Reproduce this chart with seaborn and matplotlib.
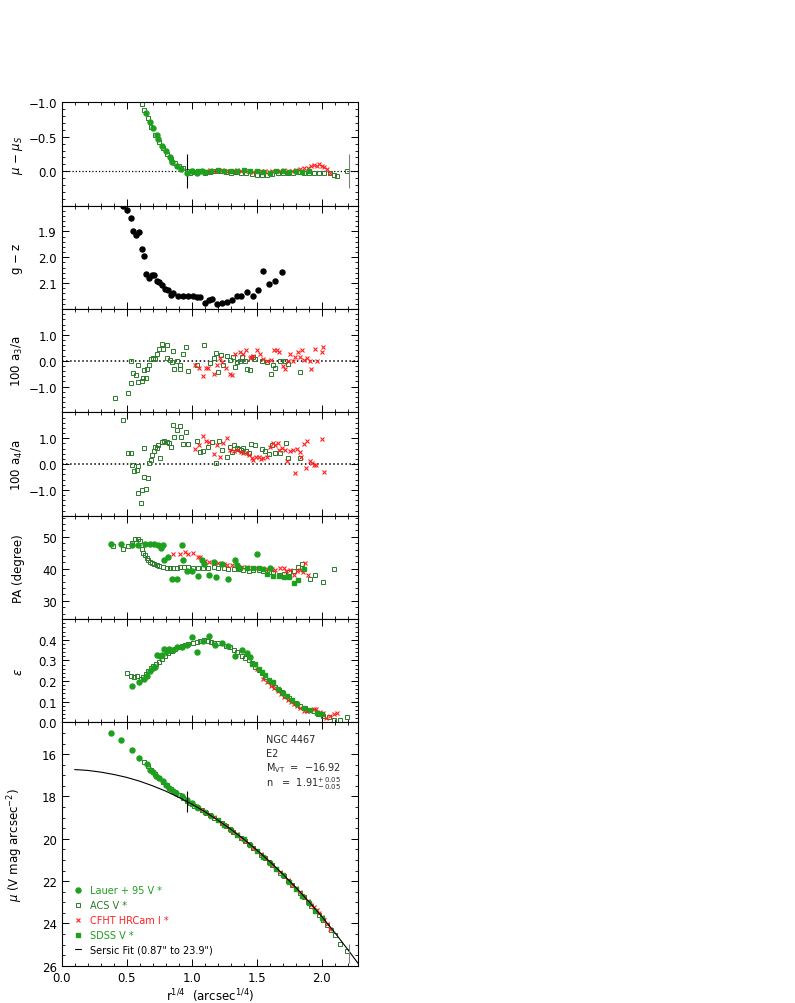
import numpy as np
import matplotlib
matplotlib.use("Agg")
import matplotlib.pyplot as plt
from matplotlib.ticker import MultipleLocator, FixedLocator, FuncFormatter
from matplotlib.lines import Line2D
import seaborn as sns

# colours of the four data sets
LAUER = "#1ea01e"
ACS = "#2a7a2a"
CFHT = "#ff2020"
SDSS = "#1ea01e"

# ---------------- panel 1 : mu - mu_S ----------------
lauer_res_x = [0.65, 0.68, 0.70, 0.73, 0.74, 0.77, 0.80, 0.83, 0.85, 0.89, 0.92, 0.96, 1.00, 1.04, 1.08]
lauer_res_y = [-0.84, -0.71, -0.62, -0.52, -0.47, -0.37, -0.30, -0.20, -0.14, -0.07, -0.03, 0.02, -0.01, 0.02, 0.00]
acs_res_x = [0.615, 0.633, 0.66, 0.69, 0.72, 0.75, 0.78, 0.81, 0.84, 0.87, 0.90, 0.93, 0.96, 0.99, 1.02, 1.06,
             1.10, 1.14, 1.18, 1.22, 1.26, 1.30, 1.34, 1.38, 1.42, 1.46, 1.50, 1.54, 1.58, 1.62, 1.66, 1.70,
             1.74, 1.78, 1.82, 1.86, 1.90, 1.94, 1.98, 2.02, 2.06, 2.09, 2.12, 2.19]
acs_res_y = [-0.975, -0.89, -0.77, -0.64, -0.53, -0.43, -0.34, -0.25, -0.18, -0.12, -0.07, -0.04, -0.01, 0.02,
             0.01, 0.00, 0.02, 0.01, -0.01, 0.00, 0.01, 0.02, 0.01, 0.02, 0.03, 0.04, 0.05, 0.05, 0.05, 0.04,
             0.03, 0.02, 0.02, 0.02, 0.01, 0.02, 0.02, 0.03, 0.03, 0.02, 0.03, 0.05, 0.07, -0.01]
sdss_res_x = [1.00, 1.05, 1.10, 1.15, 1.20, 1.25, 1.30, 1.35, 1.40, 1.45, 1.50, 1.55, 1.60, 1.65, 1.70, 1.75,
              1.80, 1.85, 1.90]
sdss_res_y = [0.00, -0.01, 0.01, 0.00, -0.02, -0.01, 0.00, -0.01, -0.02, -0.01, 0.00, 0.01, 0.02, -0.01, 0.00,
              0.01, 0.00, 0.01, -0.01]
cfht_res_x = [1.05, 1.08, 1.11, 1.14, 1.17, 1.20, 1.23, 1.26, 1.29, 1.32, 1.35, 1.38, 1.41, 1.44, 1.47, 1.50,
              1.53, 1.56, 1.59, 1.62, 1.65, 1.68, 1.71, 1.74, 1.77, 1.80, 1.83, 1.86, 1.89, 1.92, 1.94, 1.96,
              1.98, 2.00, 2.02, 2.04, 2.06]
cfht_res_y = [0.01, -0.01, 0.00, -0.02, -0.01, 0.00, -0.02, -0.01, 0.00, -0.01, -0.02, -0.01, 0.00, -0.01, 0.01,
              0.00, -0.01, 0.00, 0.01, 0.00, -0.01, 0.00, -0.02, -0.01, 0.00, -0.02, -0.03, -0.04, -0.05, -0.07,
              -0.09, -0.08, -0.10, -0.07, -0.06, -0.03, 0.02]

# ---------------- panel 2 : g - z ----------------
gz_x = [0.469, 0.50, 0.531, 0.551, 0.572, 0.597, 0.615, 0.631, 0.648, 0.672, 0.692, 0.712, 0.73, 0.75, 0.774,
        0.795, 0.815, 0.838, 0.859, 0.897, 0.935, 0.974, 1.008, 1.038, 1.064, 1.10, 1.131, 1.154, 1.197, 1.231,
        1.269, 1.308, 1.346, 1.377, 1.423, 1.469, 1.508, 1.551, 1.597, 1.636, 1.692]
gz_y = [1.801, 1.815, 1.847, 1.898, 1.913, 1.903, 1.966, 1.993, 2.066, 2.079, 2.07, 2.07, 2.091, 2.095, 2.108,
        2.121, 2.127, 2.144, 2.140, 2.151, 2.151, 2.151, 2.151, 2.154, 2.155, 2.175, 2.165, 2.162, 2.181, 2.178,
        2.171, 2.165, 2.151, 2.148, 2.136, 2.151, 2.127, 2.052, 2.103, 2.091, 2.057]

# ---------------- panel 3 : 100 a3/a ----------------
acs_a3_x = [0.41, 0.508, 0.533, 0.533, 0.551, 0.572, 0.59, 0.59, 0.615, 0.628, 0.633, 0.646, 0.654, 0.672, 0.685,
            0.705, 0.718, 0.73, 0.748, 0.769, 0.782, 0.808, 0.808, 0.833, 0.846, 0.859, 0.864, 0.889, 0.91, 0.91,
            0.931, 0.956, 0.974, 1.038, 1.095, 1.141, 1.167, 1.187, 1.205, 1.223, 1.238, 1.269, 1.29, 1.313,
            1.333, 1.351, 1.372, 1.385, 1.41, 1.423, 1.449, 1.467, 1.487, 1.538, 1.577, 1.608, 1.623, 1.641,
            1.679, 1.718, 1.743, 1.828]
acs_a3_y = [-1.45, -1.27, -0.85, -0.02, -0.47, -0.57, -0.15, -0.82, -0.80, -0.68, -0.37, -0.68, -0.32, -0.15,
            0.08, 0.10, 0.08, 0.27, 0.47, 0.66, 0.47, 0.62, 0.10, 0.04, -0.06, 0.38, -0.32, -0.02, -0.15, -0.32,
            0.25, 0.51, -0.41, -0.15, 0.62, -0.10, 0.10, 0.30, -0.45, 0.23, -0.17, 0.20, 0.03, 0.13, -0.23, -0.07,
            0.00, 0.16, 0.00, -0.32, -0.38, 0.13, 0.06, 0.00, -0.06, -0.51, -0.17, -0.28, 0.00, 0.00, -0.13, -0.42]
cfht_a3_x = [1.025, 1.054, 1.085, 1.108, 1.128, 1.167, 1.197, 1.218, 1.236, 1.262, 1.29, 1.308, 1.333, 1.367,
             1.39, 1.418, 1.444, 1.454, 1.474, 1.50, 1.526, 1.551, 1.577, 1.608, 1.633, 1.654, 1.674, 1.70, 1.718,
             1.738, 1.756, 1.777, 1.795, 1.815, 1.833, 1.846, 1.864, 1.885, 1.91, 1.918, 1.949, 1.962, 2.0, 2.008]
cfht_a3_y = [-0.15, -0.28, -0.60, -0.28, -0.30, -0.53, -0.15, 0.10, -0.07, -0.28, -0.53, -0.55, 0.27, 0.33, 0.27,
             0.43, 0.10, 0.13, 0.17, 0.43, 0.25, 0.07, 0.00, 0.03, 0.40, 0.43, 0.33, -0.20, -0.32, 0.00, 0.27, -0.03,
             0.13, 0.33, 0.15, 0.40, 0.03, 0.10, 0.00, -0.32, 0.47, -0.03, 0.33, 0.51]

# ---------------- panel 4 : 100 a4/a ----------------
acs_a4_x = [0.474, 0.508, 0.533, 0.538, 0.556, 0.577, 0.59, 0.59, 0.608, 0.62, 0.633, 0.633, 0.646, 0.662, 0.672,
            0.685, 0.697, 0.71, 0.718, 0.73, 0.743, 0.756, 0.769, 0.787, 0.808, 0.828, 0.841, 0.854, 0.867, 0.885,
            0.91, 0.915, 0.931, 0.956, 0.974, 1.038, 1.064, 1.09, 1.128, 1.158, 1.187, 1.213, 1.231, 1.269, 1.29,
            1.308, 1.326, 1.346, 1.36, 1.377, 1.397, 1.415, 1.436, 1.454, 1.487, 1.538, 1.564, 1.59, 1.615, 1.641,
            1.679, 1.726, 1.738, 1.828]
acs_a4_y = [1.69, 0.41, 0.44, -0.02, -0.26, -0.23, -0.07, -1.12, -1.50, -0.99, 0.61, -0.50, -0.95, -0.56, 0.02,
            0.15, 0.35, 0.50, 0.67, 0.61, 0.74, 0.25, 0.87, 0.90, 0.87, 0.81, 0.64, 1.50, 1.03, 1.33, 1.46, 1.03,
            0.77, 1.23, 0.77, 0.90, 0.48, 0.50, 0.64, 0.85, 0.02, 0.90, 0.54, 0.26, 0.64, 0.48, 0.74, 0.61, 0.58,
            0.54, 0.61, 0.50, 0.41, 0.77, 0.74, 0.58, 0.50, 0.38, 0.72, 0.41, 0.44, 0.81, 0.25, 0.23]
cfht_a4_x = [1.025, 1.058, 1.085, 1.108, 1.131, 1.167, 1.192, 1.218, 1.238, 1.269, 1.295, 1.321, 1.346, 1.377,
             1.397, 1.423, 1.441, 1.461, 1.474, 1.495, 1.513, 1.531, 1.551, 1.577, 1.603, 1.623, 1.641, 1.661,
             1.674, 1.697, 1.718, 1.731, 1.756, 1.777, 1.795, 1.808, 1.828, 1.841, 1.859, 1.877, 1.885, 1.905,
             1.923, 1.936, 1.956, 2.0, 2.013]
cfht_a4_y = [0.57, 0.74, 1.10, 0.90, 0.85, 0.38, 0.74, 0.29, 0.81, 1.00, 0.54, 0.50, 0.54, 0.48, 0.41, 0.44, 0.35,
             0.22, 0.16, 0.29, 0.29, 0.20, 0.25, 0.29, 0.64, 0.81, 0.74, 0.81, 0.54, 0.61, 0.54, 0.11, 0.50, 0.54,
             -0.33, 0.58, 0.45, 0.29, 0.77, -0.15, 0.90, 0.12, 0.02, -0.04, -0.02, 0.97, -0.30]

# ---------------- panel 5 : PA ----------------
lauer_pa_x = [0.379, 0.454, 0.54, 0.585, 0.641, 0.679, 0.71, 0.738, 0.764, 0.782, 0.79, 0.815, 0.851, 0.885,
              0.923, 0.935, 0.962, 1.0, 1.044, 1.077, 1.095, 1.136, 1.172, 1.187, 1.231, 1.282, 1.333, 1.351,
              1.505, 1.60]
lauer_pa_y = [47.7, 47.7, 47.5, 47.5, 47.7, 47.7, 47.7, 47.5, 46.4, 47.4, 42.7, 43.8, 36.8, 36.8, 47.5, 42.7,
              39.2, 39.2, 37.8, 42.7, 41.5, 38.0, 42.0, 37.5, 41.5, 36.8, 42.7, 41.3, 44.6, 40.3]
acs_pa_x = [0.397, 0.474, 0.513, 0.538, 0.564, 0.585, 0.60, 0.615, 0.628, 0.64, 0.654, 0.667, 0.679, 0.692, 0.71,
            0.73, 0.75, 0.777, 0.808, 0.833, 0.859, 0.885, 0.91, 0.94, 0.974, 1.013, 1.051, 1.09, 1.128, 1.167,
            1.205, 1.244, 1.282, 1.321, 1.36, 1.397, 1.436, 1.474, 1.513, 1.551, 1.59, 1.628, 1.667, 1.71, 1.749,
            1.787, 1.82, 1.851, 1.91, 1.949, 2.005, 2.09]
acs_pa_y = [47.0, 46.2, 47.2, 48.2, 49.4, 49.4, 48.7, 46.3, 45.0, 44.3, 43.5, 42.7, 42.0, 41.7, 41.5, 41.2, 41.0,
            40.6, 40.4, 40.2, 40.2, 40.4, 40.6, 40.7, 40.6, 40.4, 40.2, 40.2, 40.4, 40.6, 40.2, 40.1, 39.9, 39.9,
            39.9, 39.6, 39.4, 39.6, 39.6, 39.2, 38.9, 38.6, 38.2, 38.4, 38.9, 39.2, 40.6, 41.5, 36.8, 38.1, 35.8,
            39.8]
cfht_pa_x = [0.859, 0.91, 0.95, 0.974, 1.008, 1.044, 1.064, 1.103, 1.136, 1.167, 1.205, 1.244, 1.269, 1.308,
             1.346, 1.385, 1.423, 1.462, 1.50, 1.538, 1.577, 1.615, 1.641, 1.679, 1.705, 1.726, 1.756, 1.782,
             1.808, 1.833, 1.854, 1.872, 1.897]
cfht_pa_y = [44.6, 44.6, 45.4, 44.6, 44.8, 43.8, 43.8, 42.5, 42.0, 41.7, 41.7, 41.5, 41.3, 41.3, 41.0, 40.6, 40.6,
             40.4, 40.4, 40.2, 39.9, 39.9, 39.6, 40.4, 40.1, 39.4, 39.6, 38.2, 39.4, 39.6, 38.9, 41.7, 38.1]
sdss_pa_x = [1.372, 1.423, 1.474, 1.513, 1.551, 1.577, 1.628, 1.667, 1.705, 1.744, 1.782, 1.82, 1.864]
sdss_pa_y = [40.2, 40.2, 40.2, 40.2, 39.9, 38.4, 37.6, 37.8, 37.5, 37.5, 35.7, 36.6, 39.8]

# ---------------- panel 6 : ellipticity ----------------
acs_eps_x = [0.505, 0.531, 0.556, 0.582, 0.608, 0.628, 0.649, 0.667, 0.685, 0.705, 0.726, 0.746, 0.769, 0.795,
             0.82, 0.846, 0.872, 0.897, 0.923, 0.949, 0.974, 1.008, 1.038, 1.064, 1.095, 1.121, 1.146, 1.172,
             1.205, 1.231, 1.264, 1.295, 1.321, 1.351, 1.385, 1.41, 1.436, 1.462, 1.487, 1.513, 1.538, 1.564,
             1.59, 1.615, 1.641, 1.667, 1.692, 1.718, 1.744, 1.769, 1.803, 1.833, 1.867, 1.897, 1.936, 1.974,
             2.008, 2.051, 2.09, 2.136, 2.192]
acs_eps_y = [0.238, 0.226, 0.221, 0.226, 0.21, 0.218, 0.234, 0.25, 0.263, 0.275, 0.283, 0.291, 0.307, 0.323,
             0.334, 0.348, 0.356, 0.364, 0.369, 0.375, 0.38, 0.384, 0.388, 0.396, 0.40, 0.393, 0.388, 0.384, 0.384,
             0.384, 0.372, 0.364, 0.351, 0.34, 0.323, 0.312, 0.30, 0.287, 0.27, 0.254, 0.238, 0.218, 0.202, 0.186,
             0.17, 0.157, 0.146, 0.13, 0.118, 0.108, 0.092, 0.081, 0.069, 0.06, 0.053, 0.043, 0.032, 0.024, 0.011,
             0.011, 0.027]
lauer_eps_x = [0.538, 0.597, 0.633, 0.654, 0.679, 0.70, 0.718, 0.736, 0.756, 0.769, 0.79, 0.808, 0.828, 0.854,
               0.885, 0.923, 0.962, 1.0, 1.038, 1.09, 1.136, 1.18, 1.231, 1.282, 1.333, 1.385, 1.428, 1.444]
lauer_eps_y = [0.178, 0.194, 0.21, 0.226, 0.247, 0.263, 0.27, 0.327, 0.323, 0.327, 0.356, 0.348, 0.356, 0.351,
               0.364, 0.367, 0.377, 0.413, 0.34, 0.396, 0.421, 0.377, 0.384, 0.372, 0.323, 0.351, 0.334, 0.315]
sdss_eps_x = [1.462, 1.487, 1.513, 1.538, 1.564, 1.597, 1.628, 1.659, 1.70, 1.731, 1.769, 1.808, 1.859, 1.91,
              1.962, 2.0]
sdss_eps_y = [0.284, 0.281, 0.26, 0.244, 0.228, 0.207, 0.196, 0.163, 0.142, 0.126, 0.11, 0.09, 0.071, 0.058,
              0.045, 0.042]
cfht_eps_x = [1.50, 1.551, 1.577, 1.608, 1.633, 1.659, 1.685, 1.71, 1.736, 1.762, 1.782, 1.808, 1.833, 1.859,
              1.885, 1.91, 1.936, 1.956, 1.982, 2.008, 2.033, 2.064, 2.09, 2.115]
cfht_eps_y = [0.26, 0.21, 0.194, 0.178, 0.166, 0.15, 0.138, 0.121, 0.108, 0.097, 0.089, 0.081, 0.069, 0.056,
              0.053, 0.056, 0.066, 0.066, 0.05, 0.045, 0.022, 0.032, 0.042, 0.047]

# ---------------- panel 7 : surface brightness ----------------
lauer_mu_x = [0.379, 0.454, 0.538, 0.597, 0.654, 0.679, 0.70, 0.726, 0.75, 0.777, 0.802, 0.828, 0.854, 0.879,
              0.923, 0.96, 1.0, 1.04]
lauer_mu_y = [14.98, 15.33, 15.81, 16.20, 16.49, 16.73, 16.83, 17.02, 17.14, 17.27, 17.45, 17.60, 17.73, 17.85,
              17.98, 18.17, 18.33, 18.48]
acs_mu_x = [0.63, 0.66, 0.69, 0.72, 0.75, 0.78, 0.81, 0.84, 0.87, 0.90, 0.93, 0.96, 0.99, 1.02, 1.05, 1.08, 1.11,
            1.14, 1.17, 1.20, 1.23, 1.26, 1.29, 1.32, 1.35, 1.38, 1.41, 1.44, 1.47, 1.50, 1.53, 1.56, 1.59, 1.62,
            1.65, 1.68, 1.71, 1.74, 1.77, 1.80, 1.83, 1.86, 1.89, 1.92, 1.95, 1.98, 2.01, 2.04, 2.07, 2.10, 2.14,
            2.19]
acs_mu_y = [16.36, 16.55, 16.75, 16.95, 17.13, 17.30, 17.48, 17.65, 17.80, 17.93, 18.06, 18.20, 18.32, 18.44,
            18.55, 18.66, 18.78, 18.89, 19.00, 19.12, 19.26, 19.40, 19.53, 19.67, 19.81, 19.96, 20.10, 20.27,
            20.42, 20.58, 20.75, 20.92, 21.10, 21.25, 21.43, 21.60, 21.78, 21.98, 22.17, 22.36, 22.56, 22.77,
            22.97, 23.18, 23.39, 23.62, 23.85, 24.07, 24.30, 24.55, 24.95, 25.30]
sdss_mu_x = [1.00, 1.05, 1.10, 1.15, 1.20, 1.25, 1.30, 1.35, 1.40, 1.45, 1.50, 1.55, 1.60, 1.65, 1.70, 1.75, 1.80,
             1.85, 1.90, 1.95, 2.00]
sdss_mu_y = [18.37, 18.54, 18.74, 18.93, 19.11, 19.34, 19.57, 19.80, 20.03, 20.30, 20.57, 20.86, 21.15, 21.41,
             21.72, 22.05, 22.36, 22.70, 23.03, 23.39, 23.76]
cfht_mu_x = [1.05, 1.08, 1.11, 1.14, 1.17, 1.20, 1.23, 1.26, 1.29, 1.32, 1.35, 1.38, 1.41, 1.44, 1.47, 1.50, 1.53,
             1.56, 1.59, 1.62, 1.65, 1.68, 1.71, 1.74, 1.77, 1.80, 1.83, 1.86, 1.89, 1.92, 1.94, 1.96, 1.98, 2.00,
             2.02, 2.04, 2.06]
cfht_mu_y = [18.56, 18.65, 18.77, 18.87, 18.99, 19.13, 19.24, 19.39, 19.53, 19.66, 19.79, 19.95, 20.11, 20.25,
             20.43, 20.57, 20.74, 20.92, 21.11, 21.25, 21.41, 21.59, 21.76, 21.97, 22.17, 22.34, 22.53, 22.73,
             22.92, 23.11, 23.24, 23.38, 23.50, 23.68, 23.84, 24.03, 24.25]
fit_x = [0.10, 0.20, 0.30, 0.40, 0.50, 0.60, 0.70, 0.80, 0.90, 1.00, 1.10, 1.20, 1.30, 1.40, 1.50, 1.60, 1.70,
         1.80, 1.90, 2.00, 2.10, 2.20, 2.28]
fit_y = [16.73, 16.77, 16.85, 16.96, 17.10, 17.28, 17.50, 17.75, 18.04, 18.36, 18.72, 19.12, 19.55, 20.02, 20.53,
         21.08, 21.67, 22.30, 22.97, 23.68, 24.44, 25.24, 25.90]
fit_range = [0.966, 2.205]          # 0.87" and 23.9" in r^1/4
fit_range_mu = [18.25, 25.40]

sns.set_theme(style="ticks")
plt.rcParams.update({
    "font.family": ["DejaVu Sans"],
    "mathtext.fontset": "dejavusans",
    "font.size": 8.5,
    "axes.labelsize": 8.5,
    "axes.linewidth": 0.8,
    "axes.edgecolor": "black",
    "axes.labelcolor": "black",
    "xtick.direction": "in", "ytick.direction": "in",
    "xtick.top": True, "ytick.right": True,
    "xtick.major.size": 5, "ytick.major.size": 5,
    "xtick.minor.size": 2.5, "ytick.minor.size": 2.5,
    "xtick.major.width": 0.7, "ytick.major.width": 0.7,
    "xtick.minor.width": 0.6, "ytick.minor.width": 0.6,
    "xtick.minor.visible": True, "ytick.minor.visible": True,
    "xtick.labelsize": 8.5, "ytick.labelsize": 8.5,
    "xtick.color": "black", "ytick.color": "black",
})

one_dec = FuncFormatter(lambda v, p: f"{v:.1f}".replace("-", "\u2212"))


def pts(ax, x, y, kind):
    if kind == "lauer":
        ax.plot(x, y, "o", ms=3.6, color=LAUER, mec=LAUER, zorder=3)
    elif kind == "acs":
        ax.plot(x, y, "s", ms=3.0, mfc="none", mec=ACS, mew=0.7, zorder=2)
    elif kind == "cfht":
        ax.plot(x, y, "x", ms=3.4, color=CFHT, mew=0.8, zorder=2)
    elif kind == "sdss":
        ax.plot(x, y, "s", ms=3.2, color=SDSS, mec=SDSS, zorder=3)
    elif kind == "gz":
        ax.plot(x, y, "o", ms=3.6, color="black", zorder=3)


fig = plt.figure(figsize=(7.95, 10.04), dpi=100)
gs = fig.add_gridspec(7, 1, height_ratios=[1, 1, 1, 1, 1, 1, 2.355],
                      left=0.0776, right=0.4507, top=0.8971, bottom=0.0371, hspace=0)
axes = [fig.add_subplot(gs[i]) for i in range(7)]

for ax in axes:
    ax.set_xlim(0, 2.28)
    ax.xaxis.set_major_locator(MultipleLocator(0.5))
    ax.xaxis.set_minor_locator(MultipleLocator(0.1))
for ax in axes[:-1]:
    ax.tick_params(labelbottom=False)

# panel 1
ax = axes[0]
ax.axhline(0, color="black", ls=":", lw=0.9, zorder=1)
pts(ax, acs_res_x, acs_res_y, "acs")
pts(ax, cfht_res_x, cfht_res_y, "cfht")
pts(ax, sdss_res_x, sdss_res_y, "sdss")
pts(ax, lauer_res_x, lauer_res_y, "lauer")
ax.vlines(fit_range[0], -0.25, 0.25, color="black", lw=0.8)
ax.vlines(fit_range[1], -0.25, 0.25, color="gray", lw=0.8)
ax.set_ylim(0.5, -1.0)
ax.yaxis.set_major_locator(FixedLocator([-1.0, -0.5, 0.0]))
ax.yaxis.set_major_formatter(one_dec)
ax.yaxis.set_minor_locator(MultipleLocator(0.1))
ax.set_ylabel(r"$\mu$ $-$ $\mu_S$")

# panel 2
ax = axes[1]
pts(ax, gz_x, gz_y, "gz")
ax.set_ylim(2.2, 1.8)
ax.yaxis.set_major_locator(FixedLocator([1.9, 2.0, 2.1]))
ax.yaxis.set_major_formatter(one_dec)
ax.yaxis.set_minor_locator(MultipleLocator(0.02))
ax.set_ylabel(r"g $-$ z")

# panel 3
ax = axes[2]
ax.axhline(0, color="black", ls=":", lw=1.1, zorder=1)
pts(ax, acs_a3_x, acs_a3_y, "acs")
pts(ax, cfht_a3_x, cfht_a3_y, "cfht")
ax.set_ylim(-2.0, 2.0)
ax.yaxis.set_major_locator(FixedLocator([-1.0, 0.0, 1.0]))
ax.yaxis.set_major_formatter(one_dec)
ax.yaxis.set_minor_locator(MultipleLocator(0.2))
ax.set_ylabel(r"100 a$_3$/a")

# panel 4
ax = axes[3]
ax.axhline(0, color="black", ls=":", lw=1.1, zorder=1)
pts(ax, acs_a4_x, acs_a4_y, "acs")
pts(ax, cfht_a4_x, cfht_a4_y, "cfht")
ax.set_ylim(-2.0, 2.0)
ax.yaxis.set_major_locator(FixedLocator([-1.0, 0.0, 1.0]))
ax.yaxis.set_major_formatter(one_dec)
ax.yaxis.set_minor_locator(MultipleLocator(0.2))
ax.set_ylabel(r"100 a$_4$/a")

# panel 5
ax = axes[4]
pts(ax, acs_pa_x, acs_pa_y, "acs")
pts(ax, cfht_pa_x, cfht_pa_y, "cfht")
pts(ax, sdss_pa_x, sdss_pa_y, "sdss")
pts(ax, lauer_pa_x, lauer_pa_y, "lauer")
ax.set_ylim(24.3, 56.6)
ax.yaxis.set_major_locator(FixedLocator([30, 40, 50]))
ax.yaxis.set_minor_locator(MultipleLocator(2))
ax.set_ylabel("PA (degree)")

# panel 6
ax = axes[5]
pts(ax, acs_eps_x, acs_eps_y, "acs")
pts(ax, cfht_eps_x, cfht_eps_y, "cfht")
pts(ax, sdss_eps_x, sdss_eps_y, "sdss")
pts(ax, lauer_eps_x, lauer_eps_y, "lauer")
ax.set_ylim(0, 0.501)
ax.yaxis.set_major_locator(FixedLocator([0.0, 0.1, 0.2, 0.3, 0.4]))
ax.yaxis.set_major_formatter(one_dec)
ax.yaxis.set_minor_locator(MultipleLocator(0.02))
ax.set_ylabel(r"$\epsilon$")

# panel 7
ax = axes[6]
sns.lineplot(x=fit_x, y=fit_y, ax=ax, color="black", lw=0.8, sort=False, estimator=None, zorder=4)
pts(ax, acs_mu_x, acs_mu_y, "acs")
pts(ax, cfht_mu_x, cfht_mu_y, "cfht")
pts(ax, sdss_mu_x, sdss_mu_y, "sdss")
pts(ax, lauer_mu_x, lauer_mu_y, "lauer")
ax.vlines(fit_range[0], fit_range_mu[0] - 0.5, fit_range_mu[0] + 0.5, color="black", lw=0.8, zorder=5)
ax.vlines(fit_range[1], fit_range_mu[1] - 0.45, fit_range_mu[1] + 0.45, color="gray", lw=0.8, zorder=5)
ax.set_ylim(26, 14.5)
ax.yaxis.set_major_locator(FixedLocator([16, 18, 20, 22, 24, 26]))
ax.yaxis.set_minor_locator(MultipleLocator(0.5))
ax.set_xticks([0.0, 0.5, 1.0, 1.5, 2.0])
ax.set_xticklabels(["0.0", "0.5", "1.0", "1.5", "2.0"])
ax.set_ylabel(r"$\mu$ (V mag arcsec$^{-2}$)")
ax.set_xlabel(r"r$^{1/4}$  (arcsec$^{1/4}$)", labelpad=2)

for ax in axes:
    ax.yaxis.set_label_coords(-0.125, 0.5)

tx = 0.69
ax = axes[6]
ax.text(tx, 0.931, "NGC 4467", transform=ax.transAxes, fontsize=7, va="center")
ax.text(tx, 0.873, "E2", transform=ax.transAxes, fontsize=7, va="center")
ax.text(tx, 0.815, r"M$_{\rm VT}$  =  $-$16.92", transform=ax.transAxes, fontsize=7, va="center")
ax.text(tx, 0.753, r"n   =  1.91$^{+\,0.05}_{-\,0.05}$", transform=ax.transAxes, fontsize=7, va="center")

handles = [
    Line2D([], [], ls="none", marker="o", ms=3.6, color=LAUER),
    Line2D([], [], ls="none", marker="s", ms=3.0, mfc="none", mec=ACS, mew=0.7),
    Line2D([], [], ls="none", marker="x", ms=3.4, color=CFHT, mew=0.8),
    Line2D([], [], ls="none", marker="s", ms=3.2, color=SDSS),
    Line2D([], [], color="black", lw=0.8),
]
labels = ["Lauer + 95 V *", "ACS V *", "CFHT HRCam I *", "SDSS V *", "Sersic Fit (0.87\" to 23.9\")"]
leg = ax.legend(handles, labels, loc="lower left", bbox_to_anchor=(0.045, 0.045), frameon=False,
                fontsize=7, handlelength=0.6, handletextpad=0.9, labelspacing=0.5, borderpad=0,
                borderaxespad=0)
for t, c in zip(leg.get_texts(), [LAUER, ACS, CFHT, SDSS, "black"]):
    t.set_color(c)

fig.savefig("out.png", dpi=100)
